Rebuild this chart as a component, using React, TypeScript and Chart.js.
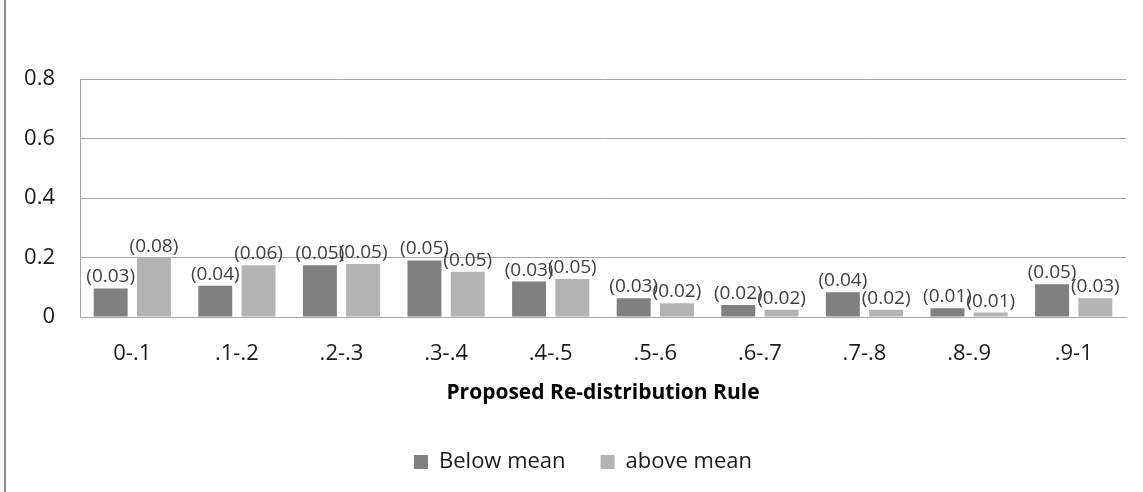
import React, { useEffect, useRef } from 'react';
import { Chart, registerables } from 'chart.js';

Chart.register(...registerables);

const categories = ['0-.1', '.1-.2', '.2-.3', '.3-.4', '.4-.5', '.5-.6', '.6-.7', '.7-.8', '.8-.9', '.9-1'];
const belowMean = [0.096, 0.105, 0.174, 0.19, 0.119, 0.063, 0.04, 0.083, 0.029, 0.11];
const aboveMean = [0.2, 0.174, 0.178, 0.152, 0.128, 0.046, 0.024, 0.024, 0.015, 0.063];
const belowLabels = ['(0.03)', '(0.04)', '(0.05)', '(0.05)', '(0.03)', '(0.03)', '(0.02)', '(0.04)', '(0.01)', '(0.05)'];
const aboveLabels = ['(0.08)', '(0.06)', '(0.05)', '(0.05)', '(0.05)', '(0.02)', '(0.02)', '(0.02)', '(0.01)', '(0.03)'];
const yTicks = [0, 0.2, 0.4, 0.6, 0.8];
const seriesNames = ['Below mean', 'above mean'];

const FONT = '"Open Sans", "Noto Sans", sans-serif';
const GRID = '#a6a6a6';

const valueLabels = {
  id: 'valueLabels',
  afterDatasetsDraw(chart: any) {
    const ctx = chart.ctx;
    const all = [belowLabels, aboveLabels];
    ctx.save();
    ctx.font = `19px ${FONT}`;
    ctx.fillStyle = '#404040';
    ctx.textAlign = 'center';
    ctx.textBaseline = 'alphabetic';
    chart.data.datasets.forEach((_: any, di: number) => {
      const meta = chart.getDatasetMeta(di);
      meta.data.forEach((el: any, i: number) => {
        ctx.fillText(all[di][i], el.x, el.y - 6);
      });
    });
    ctx.restore();
  },
};

const pageBorder = {
  id: 'pageBorder',
  afterLayout(chart: any) {
    if (chart.legend) {
      chart.legend.left += 20;
      chart.legend.right += 20;
    }
  },
  afterDraw(chart: any) {
    const ctx = chart.ctx;
    ctx.save();
    ctx.fillStyle = '#8c8c8c';
    ctx.fillRect(4, 0, 2, chart.height);
    ctx.restore();
  },
};

export default function App() {
  const ref = useRef<HTMLCanvasElement | null>(null);
  useEffect(() => {
    document.body.style.margin = '0';
    if (!ref.current) return;
    const chart = new Chart(ref.current, {
      type: 'bar',
      data: {
        labels: categories,
        datasets: [
          { label: seriesNames[0], data: belowMean, backgroundColor: '#808080', borderWidth: 0, categoryPercentage: 0.827, barPercentage: 0.785 },
          { label: seriesNames[1], data: aboveMean, backgroundColor: '#b3b3b3', borderWidth: 0, categoryPercentage: 0.827, barPercentage: 0.785 },
        ],
      },
      options: {
        animation: false,
        responsive: false,
        devicePixelRatio: 1,
        layout: { padding: { top: 79, right: 17, bottom: 9, left: 0 } },
        scales: {
          x: {
            grid: { display: false },
            border: { display: true, color: GRID },
            ticks: { font: { family: FONT, size: 22 }, color: '#1a1a1a', padding: 16 },
            title: {
              display: true,
              text: 'Proposed Re-distribution Rule',
              font: { family: FONT, size: 21, weight: 'bold' },
              color: '#000',
              padding: { top: 0, bottom: 10 },
            },
            afterFit(scale: any) { scale.height = 99; },
          },
          y: {
            min: 0,
            max: 0.8,
            afterBuildTicks(scale: any) { scale.ticks = yTicks.map((v) => ({ value: v })); },
            grid: { color: GRID, drawTicks: false, tickLength: 0 },
            border: { display: true, color: GRID },
            ticks: {
              font: { family: FONT, size: 22 },
              color: '#1a1a1a',
              padding: 25,
              callback: (v: any) => (Number(v) === 0 ? '0' : Number(v).toFixed(1)),
            },
            afterFit(scale: any) { scale.width = 80; },
          },
        },
        plugins: {
          legend: {
            position: 'bottom',
            labels: { boxWidth: 14, boxHeight: 14, font: { family: FONT, size: 22 }, color: '#1a1a1a', padding: 35 },
          },
          tooltip: { enabled: false },
        },
      } as any,
      plugins: [valueLabels, pageBorder],
    });
    return () => chart.destroy();
  }, []);
  return (
    <div style={{ width: 1143, height: 492 }}>
      <canvas ref={ref} width={1143} height={492} />
    </div>
  );
}
